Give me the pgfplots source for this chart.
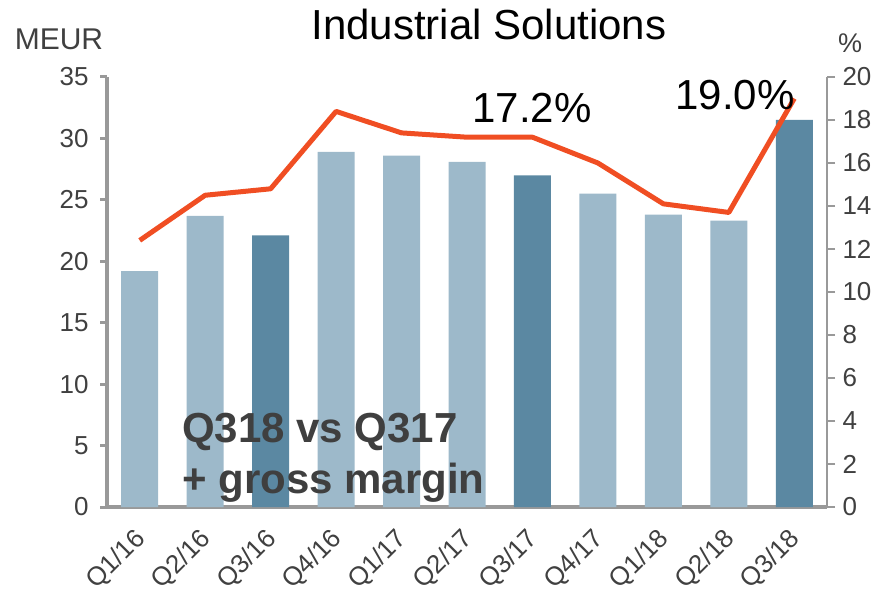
\documentclass[border=0pt]{standalone}
\usepackage{pgfplots}
\pgfplotsset{compat=1.18}
\usepackage{fontspec}
\setmainfont{Liberation Sans}

\definecolor{barlight}{HTML}{9DB9CA}
\definecolor{bardark}{HTML}{5B88A2}
\definecolor{marginline}{HTML}{F04E23}
\definecolor{axisgray}{HTML}{999999}
\definecolor{ticktext}{HTML}{404040}
\definecolor{notetext}{HTML}{3F3F3F}

\begin{document}
\begin{tikzpicture}
% sales, MEUR (left axis)
\begin{axis}[
    scale only axis,
    width=720pt, height=430pt,
    xmin=-0.5, xmax=10.5,
    ymin=0, ymax=35,
    axis x line*=bottom,
    axis y line*=left,
    axis line style={-, draw=axisgray, line width=4pt},
    xtick={0,...,10},
    xticklabels={Q1/16,Q2/16,Q3/16,Q4/16,Q1/17,Q2/17,Q3/17,Q4/17,Q1/18,Q2/18,Q3/18},
    x tick style={draw=none},
    ytick={0,5,...,35},
    y tick style={draw=axisgray, line width=3pt},
    tick align=outside,
    major tick length=7pt,
    /pgf/number format/assume math mode=true,
    ticklabel style={font=\fontsize{26}{28}\selectfont, text=ticktext},
    yticklabel style={xshift=-8pt},
    xticklabel style={rotate=45, anchor=east, xshift=-10pt, yshift=-16pt},
    ybar,
    bar width=37pt,
]
\addplot[fill=barlight, draw=none, bar shift=0pt] coordinates {
    (0,19.2) (1,23.7) (3,28.9) (4,28.6) (5,28.1) (7,25.5) (8,23.8) (9,23.3)
};
\addplot[fill=bardark, draw=none, bar shift=0pt] coordinates {
    (2,22.1) (6,27.0) (10,31.5)
};
\end{axis}

% gross margin, % (right axis)
\begin{axis}[
    scale only axis,
    width=720pt, height=430pt,
    xmin=-0.5, xmax=10.5,
    ymin=0, ymax=20,
    axis x line=none,
    axis y line*=right,
    axis line style={-, draw=axisgray, line width=2pt},
    ytick={0,2,...,20},
    y tick style={draw=axisgray, line width=1.5pt},
    tick align=outside,
    major tick length=8pt,
    /pgf/number format/assume math mode=true,
    ticklabel style={font=\fontsize{26}{28}\selectfont, text=ticktext},
    yticklabel style={xshift=4pt},
]
\addplot[color=marginline, line width=5pt, line join=round, mark=none] coordinates {
    (0,12.4) (1,14.5) (2,14.8) (3,18.4) (4,17.4) (5,17.2)
    (6,17.2) (7,16.0) (8,14.1) (9,13.7) (10,19.0)
};
\end{axis}

\node[anchor=base, font=\fontsize{42}{44}\selectfont] at (382pt,467pt) {Industrial Solutions};
\node[anchor=base, font=\fontsize{30}{32}\selectfont, text=ticktext] at (-48pt,457pt) {MEUR};
\node[anchor=base, font=\fontsize{27}{29}\selectfont, text=ticktext] at (743pt,454pt) {\%};
\node[anchor=base, font=\fontsize{42}{44}\selectfont] at (425pt,384pt) {17.2\%};
\node[anchor=base, font=\fontsize{42}{44}\selectfont] at (628pt,397pt) {19.0\%};
\node[anchor=base west, inner sep=0pt, font=\fontsize{42}{44}\selectfont\bfseries, text=notetext] at (75pt,64pt) {Q318 vs Q317};
\node[anchor=base west, inner sep=0pt, font=\fontsize{42}{44}\selectfont\bfseries, text=notetext] at (75pt,14pt) {+ gross margin};

\pgfresetboundingbox
\path (-107pt,-82pt) rectangle (776pt,507pt);
\end{tikzpicture}
\end{document}
